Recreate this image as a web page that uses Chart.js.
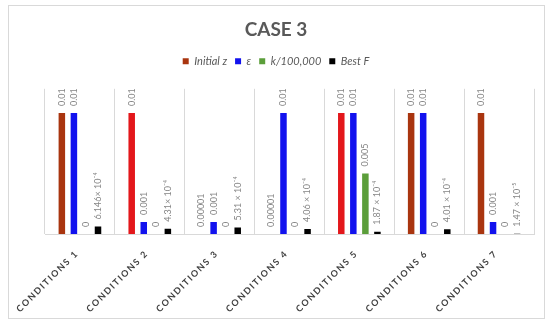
<!DOCTYPE html>
<html>
<head>
<meta charset="utf-8">
<script src="https://cdn.jsdelivr.net/npm/chart.js@4"></script>
<style>
html,body{margin:0;padding:0;background:#fff;}
#wrap{width:550px;height:326px;position:relative;}
</style>
</head>
<body>
<div id="wrap"><canvas id="c" width="550" height="326"></canvas></div>
<script>
const categories = ["CONDITIONS 1","CONDITIONS 2","CONDITIONS 3","CONDITIONS 4","CONDITIONS 5","CONDITIONS 6","CONDITIONS 7"];
const seriesNames = ["Initial z","ε","k/100,000","Best F"];
const initialZ = [0.01, 0.01, 0.00001, 0.00001, 0.01, 0.01, 0.01];
const epsilon = [0.01, 0.001, 0.001, 0.01, 0.01, 0.01, 0.001];
const kScaled = [0, 0, 0, 0, 0.005, 0, 0];
const bestF = [6.146e-4, 4.31e-4, 5.31e-4, 4.06e-4, 1.87e-4, 4.01e-4, 1.47e-5];
const initialZLabels = ["0.01","0.01","0.00001","0.00001","0.01","0.01","0.01"];
const epsilonLabels = ["0.01","0.001","0.001","0.01","0.01","0.01","0.001"];
const kLabels = ["0","0","0","0","0.005","0","0"];
const bestFLabels = ["6.146× 10⁻⁴","4.31× 10⁻⁴","5.31 × 10⁻⁴","4.06 × 10⁻⁴","1.87 × 10⁻⁴","4.01 × 10⁻⁴","1.47 × 10⁻⁵"];
const yMax = 0.012;

const BROWN = "#A9350F", RED = "#E3171B", BLUE = "#1212EE", GREEN = "#5B9E3A", BLACK = "#000000";
const initialZColors = [BROWN, RED, BROWN, BROWN, RED, BROWN, BROWN];

const frame = {
  id: 'frame',
  beforeDraw(chart){
    const ctx = chart.ctx;
    ctx.save();
    ctx.fillStyle = '#fff';
    ctx.fillRect(0,0,chart.width,chart.height);
    ctx.strokeStyle = '#D9D9D9';
    ctx.lineWidth = 1;
    ctx.strokeRect(8.5,5.5,536,313);
    ctx.restore();
    const xs = chart.scales.x;
    if (xs && !xs._patched){
      const orig = xs.drawLabels;
      xs.drawLabels = function(area){
        const c = this.ctx; c.save(); c.letterSpacing = '1.6px'; orig.call(this, area); c.restore();
      };
      xs._patched = true;
    }
  }
};

const valueLabels = {
  id: 'valueLabels',
  afterDatasetsDraw(chart){
    const ctx = chart.ctx;
    ctx.save();
    ctx.font = '9px Lato, "Open Sans", sans-serif';
    ctx.fillStyle = '#858585';
    ctx.textAlign = 'left';
    ctx.textBaseline = 'middle';
    chart.data.datasets.forEach((ds, di) => {
      const meta = chart.getDatasetMeta(di);
      meta.data.forEach((bar, i) => {
        const txt = ds.valueLabels[i];
        ctx.save();
        ctx.translate(bar.x, bar.y - 7);
        ctx.rotate(-Math.PI/2);
        ctx.fillText(txt, 0, 0);
        ctx.restore();
      });
    });
    ctx.restore();
  }
};

new Chart(document.getElementById('c'), {
  type: 'bar',
  data: {
    labels: categories,
    datasets: [
      {label: seriesNames[0], data: initialZ, backgroundColor: initialZColors, valueLabels: initialZLabels},
      {label: seriesNames[1], data: epsilon, backgroundColor: BLUE, valueLabels: epsilonLabels},
      {label: seriesNames[2], data: kScaled, backgroundColor: GREEN, valueLabels: kLabels},
      {label: seriesNames[3], data: bestF, backgroundColor: BLACK, valueLabels: bestFLabels}
    ]
  },
  options: {
    responsive: false,
    animation: false,
    devicePixelRatio: 1,
    categoryPercentage: 0.69,
    barPercentage: 0.54,
    layout: {padding: {left: 9, right: 7, top: 5, bottom: 7}},
    plugins: {
      title: {
        display: true,
        text: 'CASE 3',
        color: '#595959',
        font: {family: 'Lato, "Open Sans", sans-serif', size: 19, weight: 'bold'},
        padding: {top: 13, bottom: 7}
      },
      legend: {
        display: true,
        position: 'top',
        labels: {
          color: '#595959',
          font: {family: 'Lato, "Open Sans", sans-serif', size: 11, style: 'italic'},
          boxWidth: 6, boxHeight: 6, padding: 8,
          generateLabels(chart){
            const cols = [BROWN, BLUE, GREEN, BLACK];
            return chart.data.datasets.map((d,i)=>({text: d.label, fillStyle: cols[i], strokeStyle: cols[i], lineWidth: 0, datasetIndex: i, fontColor: '#595959'}));
          }
        }
      },
      tooltip: {enabled: false}
    },
    scales: {
      x: {
        offset: true,
        grid: {display: true, offset: true, color: '#D9D9D9', drawTicks: false},
        border: {display: true, color: '#D9D9D9'},
        ticks: {
          minRotation: 45, maxRotation: 45, padding: 14, labelOffset: -3,
          color: '#404040',
          font: {family: 'Lato, "Open Sans", sans-serif', size: 9, weight: 'bold'}
        },
        afterFit(s){ s.height = 85; s.paddingLeft = 0; s.paddingRight = 0; }
      },
      x2: {
        type: 'linear', position: 'top', display: true,
        grid: {display: false}, border: {display: false}, ticks: {display: false},
        afterFit(s){ s.height = 12; s.paddingLeft = 0; s.paddingRight = 0; }
      },
      y: {
        display: true, position: 'left', min: 0, max: yMax,
        grid: {display: false}, border: {display: false}, ticks: {display: false},
        afterFit(s){ s.width = 36; s.paddingTop = 0; s.paddingBottom = 0; }
      },
      y2: {
        type: 'linear', position: 'right', display: true,
        grid: {display: false}, border: {display: false}, ticks: {display: false},
        afterFit(s){ s.width = 9; s.paddingTop = 0; s.paddingBottom = 0; }
      }
    }
  },
  plugins: [frame, valueLabels]
});
</script>
</body>
</html>
